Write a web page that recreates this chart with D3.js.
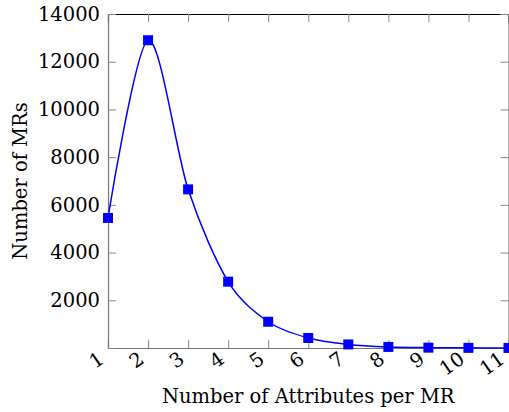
<!DOCTYPE html>
<html>
<head>
<meta charset="utf-8">
<script src="https://cdn.jsdelivr.net/npm/d3@7"></script>
<style>
  html, body { margin: 0; padding: 0; background: #fff; }
  text { font-family: "DejaVu Serif", "Liberation Serif", serif; fill: #000; }
</style>
</head>
<body>
<svg id="chart"></svg>
<script>
const WIDTH = 509;
const HEIGHT = 412;

// data
const attributes = [1, 2, 3, 4, 5, 6, 7, 8, 9, 10, 11];
const mrCounts = [5450, 12900, 6650, 2780, 1100, 420, 150, 45, 15, 6, 2];
const yTicks = [0, 2000, 4000, 6000, 8000, 10000, 12000, 14000];

const LEFT = 108;
const RIGHT = 508.5;
const TOP = 14;
const BOTTOM = 348;
const TICK = 8;
const FONT = 19.5;
const FAMILY = "DejaVu Serif";

const svg = d3.select("#chart").attr("width", WIDTH).attr("height", HEIGHT);

const xScale = d3.scaleLinear().domain([1, 11]).range([LEFT, RIGHT]);
const yScale = d3.scaleLinear().domain([0, 14000]).range([BOTTOM, TOP]);

// inward ticks, pgfplots style
const xAxis = d3.axisBottom(xScale).tickValues(attributes).tickSize(-TICK).tickFormat(d3.format("d"));
const xAxisTop = d3.axisTop(xScale).tickValues(attributes).tickSize(-TICK).tickFormat("");
const yAxis = d3.axisLeft(yScale).tickValues(yTicks).tickSize(-TICK).tickFormat((d) => (d === 0 ? "" : d));
const yAxisRight = d3.axisRight(yScale).tickValues(yTicks).tickSize(-TICK).tickFormat("");

const gx = svg.append("g").attr("transform", "translate(0," + BOTTOM + ")").call(xAxis);
const gxTop = svg.append("g").attr("transform", "translate(0," + TOP + ")").call(xAxisTop);
const gy = svg.append("g").attr("transform", "translate(" + LEFT + ",0)").call(yAxis);
const gyRight = svg.append("g").attr("transform", "translate(" + RIGHT + ",0)").call(yAxisRight);

[gx, gxTop, gy, gyRight].forEach((g) => {
  g.selectAll(".tick line").attr("stroke", "#888").attr("stroke-width", 1);
  g.select(".domain").attr("stroke", "#777").attr("stroke-width", 1.2);
});
gxTop.select(".domain").attr("stroke", "#000");

gy.selectAll(".tick text")
  .attr("x", -8)
  .attr("font-size", FONT)
  .attr("font-family", FAMILY);

gx.selectAll(".tick text")
  .attr("font-size", FONT)
  .attr("font-family", FAMILY)
  .attr("text-anchor", "end")
  .attr("y", 0)
  .attr("dy", 0)
  .attr("transform", "translate(-3,14) rotate(-35)");

// curve through the points
const line = d3
  .line()
  .x((d, i) => xScale(attributes[i]))
  .y((d) => yScale(d))
  .curve(d3.curveCardinal.tension(0.1));

svg.append("path")
  .datum(mrCounts)
  .attr("fill", "none")
  .attr("stroke", "#0000ff")
  .attr("stroke-width", 1.5)
  .attr("d", line);

const MARK = 10;
svg.selectAll("rect.mark")
  .data(mrCounts)
  .enter()
  .append("rect")
  .attr("class", "mark")
  .attr("x", (d, i) => xScale(attributes[i]) - MARK / 2)
  .attr("y", (d) => yScale(d) - MARK / 2)
  .attr("width", MARK)
  .attr("height", MARK)
  .attr("fill", "#0000ff");

// axis titles
svg.append("text")
  .attr("x", (LEFT + RIGHT) / 2)
  .attr("y", 403)
  .attr("text-anchor", "middle")
  .attr("font-size", FONT)
  .text("Number of Attributes per MR");

svg.append("text")
  .attr("transform", "translate(27," + (TOP + BOTTOM) / 2 + ") rotate(-90)")
  .attr("text-anchor", "middle")
  .attr("font-size", FONT)
  .text("Number of MRs");
</script>
</body>
</html>
